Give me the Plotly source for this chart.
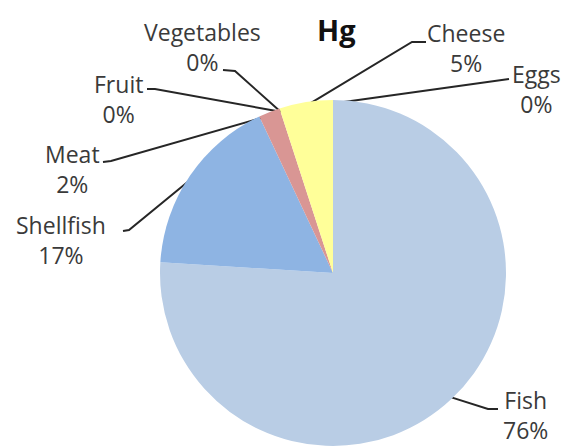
import math
import plotly.graph_objects as go

# Hg intake by food group, percent (clockwise from 12 o'clock)
categories = ["Fish", "Shellfish", "Meat", "Fruit", "Vegetables", "Cheese", "Eggs"]
shares = [76, 17, 2, 0, 0, 5, 0]
colors = ["#b9cde5", "#8eb4e3", "#d99694", "#c3d69b", "#b3a2c7", "#ffff99", "#fac090"]
title_text = "Hg"

W, H = 569, 447
CX, CY, R = 333, 273, 173  # pie centre and radius in pixels

# label block centre, leader start and elbow (pixels)
label_layout = {
    "Fish":       dict(c=(525, 415), s=(498, 409), e=(488, 409)),
    "Shellfish":  dict(c=(61, 240),  s=(123, 231), e=(129, 230)),
    "Meat":       dict(c=(72, 169),  s=(103, 162), e=(111, 161)),
    "Fruit":      dict(c=(118, 99),  s=(147, 89),  e=(155, 89)),
    "Vegetables": dict(c=(202, 47),  s=(223, 70),  e=(235, 71)),
    "Cheese":     dict(c=(466, 48),  s=(426, 42),  e=(412, 42)),
    "Eggs":       dict(c=(536, 89),  s=(509, 79),  e=(502, 80)),
}

fig = go.Figure()

fig.add_trace(go.Pie(
    labels=categories,
    values=shares,
    sort=False,
    direction="clockwise",
    rotation=0,
    marker=dict(colors=colors, line=dict(width=0)),
    textinfo="none",
    hoverinfo="label+percent",
    showlegend=False,
    domain=dict(x=[(CX - R) / W, (CX + R) / W],
                y=[(H - CY - R) / H, (H - CY + R) / H]),
))

total = sum(shares)
cum = 0.0
text_color = "#3a3a3a"
for name, val in zip(categories, shares):
    mid = (cum + val / 2) / total
    cum += val
    ang = 2 * math.pi * mid
    px = CX + R * 0.98 * math.sin(ang)
    py = CY - R * 0.98 * math.cos(ang)
    lay = label_layout[name]
    sx, sy = lay["s"]
    ex, ey = lay["e"]
    fig.add_trace(go.Scatter(
        x=[sx, ex, px], y=[sy, ey, py],
        mode="lines", line=dict(color="#262626", width=2),
        hoverinfo="skip", showlegend=False,
    ))
    fig.add_annotation(
        x=lay["c"][0], y=lay["c"][1], xref="x", yref="y",
        text=f"{name}<br>{val}%", showarrow=False,
        font=dict(family="Open Sans", size=23, color=text_color),
        align="center", xanchor="center", yanchor="middle",
    )

fig.add_annotation(
    x=336, y=29, xref="x", yref="y", text=f"<b>{title_text}</b>",
    showarrow=False, font=dict(family="Open Sans", size=29, color="#111111"),
    xanchor="center", yanchor="middle",
)

fig.update_layout(
    width=W, height=H,
    margin=dict(l=0, r=0, t=0, b=0),
    paper_bgcolor="white", plot_bgcolor="rgba(0,0,0,0)",
    xaxis=dict(range=[0, W], visible=False, fixedrange=True),
    yaxis=dict(range=[H, 0], visible=False, fixedrange=True),
)

fig.write_html("out.html")
